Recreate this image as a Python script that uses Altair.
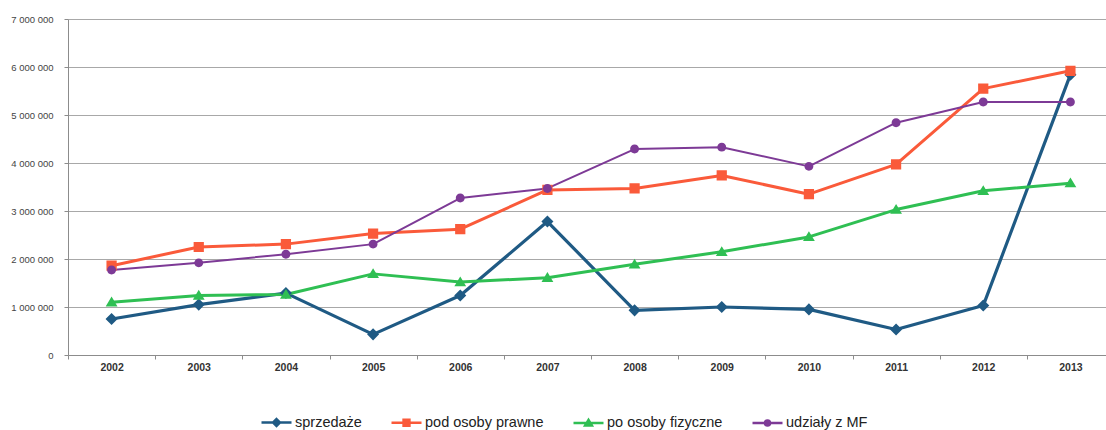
import altair as alt
import pandas as pd

# Categories and series (values in PLN)
years = [2002, 2003, 2004, 2005, 2006, 2007, 2008, 2009, 2010, 2011, 2012, 2013]
series_names = ["sprzedaże", "pod osoby prawne", "po osoby fizyczne", "udziały z MF"]

sprzedaze = [750_000, 1_050_000, 1_290_000, 430_000, 1_240_000, 2_780_000,
             930_000, 1_000_000, 950_000, 530_000, 1_030_000, 5_840_000]
pod_osoby_prawne = [1_860_000, 2_250_000, 2_310_000, 2_530_000, 2_620_000, 3_440_000,
                    3_470_000, 3_740_000, 3_350_000, 3_970_000, 5_550_000, 5_920_000]
po_osoby_fizyczne = [1_100_000, 1_240_000, 1_260_000, 1_690_000, 1_520_000, 1_610_000,
                     1_890_000, 2_150_000, 2_460_000, 3_030_000, 3_420_000, 3_580_000]
udzialy_mf = [1_770_000, 1_920_000, 2_100_000, 2_310_000, 3_270_000, 3_470_000,
              4_290_000, 4_330_000, 3_930_000, 4_840_000, 5_270_000, 5_270_000]

y_ticks = [0, 1_000_000, 2_000_000, 3_000_000, 4_000_000, 5_000_000, 6_000_000, 7_000_000]

colors = ["#1f5a84", "#fa5a3a", "#2fbf53", "#7d3a96"]
line_widths = [3.2, 3, 3, 2]

# Marker paths: a horizontal stroke (only visible in the legend, where symbols
# are stroked) plus a filled marker in the middle.
marker_paths = [
    "M-1,0H1M0,-0.23L0.23,0L0,0.23L-0.23,0Z",
    "M-1,0H1M-0.195,-0.195H0.195V0.195H-0.195Z",
    "M-1,0H1M0,-0.215L0.225,0.16H-0.225Z",
    "M-1,0H1M0.17,0A0.17,0.17,0,1,1,-0.17,0A0.17,0.17,0,1,1,0.17,0Z",
]

rows = []
for name, vals in zip(series_names,
                      [sprzedaze, pod_osoby_prawne, po_osoby_fizyczne, udzialy_mf]):
    for yr, v in zip(years, vals):
        rows.append({"rok": yr, "seria": name, "wartosc": v})
df = pd.DataFrame(rows)

FONT = "Liberation Sans"

x_enc = alt.X(
    "rok:O",
    title=None,
    scale=alt.Scale(range=[0, 1046], paddingInner=0, paddingOuter=0),
    axis=alt.Axis(
        tickBand="extent",
        labelAngle=0,
        labelFont=FONT,
        labelFontSize=10.5,
        labelFontWeight="bold",
        labelColor="#333333",
        labelPadding=3,
        tickSize=4,
        tickColor="#8c8c8c",
        domainColor="#8c8c8c",
        grid=False,
    ),
)

y_enc = alt.Y(
    "wartosc:Q",
    title=None,
    scale=alt.Scale(domain=[0, 7_000_000], nice=False),
    axis=alt.Axis(
        values=y_ticks,
        labelExpr="replace(format(datum.value, ',d'), regexp(',', 'g'), ' ')",
        labelFont=FONT,
        labelFontSize=9.5,
        labelColor="#444444",
        labelPadding=11,
        tickSize=4,
        tickColor="#8c8c8c",
        domainColor="#8c8c8c",
        gridColor="#a8a8a8",
        gridWidth=1,
    ),
)

# Per-series line colour and width as value conditions (no extra legend)
line_color = alt.when(alt.datum.seria == series_names[0]).then(alt.value(colors[0]))
line_width = alt.when(alt.datum.seria == series_names[0]).then(alt.value(line_widths[0]))
for name, c, w in zip(series_names[1:-1], colors[1:-1], line_widths[1:-1]):
    line_color = line_color.when(alt.datum.seria == name).then(alt.value(c))
    line_width = line_width.when(alt.datum.seria == name).then(alt.value(w))
line_color = line_color.otherwise(alt.value(colors[-1]))
line_width = line_width.otherwise(alt.value(line_widths[-1]))

lines = alt.Chart(df).mark_line(strokeJoin="round").encode(
    x=x_enc,
    y=y_enc,
    detail="seria:N",
    color=line_color,
    strokeWidth=line_width,
    order=alt.Order("rok:O"),
)

legend_def = alt.Legend(
    title=None,
    orient="none",
    direction="horizontal",
    columns=4,
    legendX=192,
    legendY=387,
    padding=0,
    columnPadding=24,
    labelOffset=2,
    labelFont=FONT,
    labelFontSize=14.5,
    labelColor="#222222",
    symbolSize=900,
    symbolStrokeWidth=2.5,
)

points = alt.Chart(df).mark_point(filled=True, opacity=1, size=2756).encode(
    x=x_enc,
    y=y_enc,
    color=alt.Color("seria:N", scale=alt.Scale(domain=series_names, range=colors),
                    sort=series_names, legend=legend_def),
    stroke=alt.Stroke("seria:N", scale=alt.Scale(domain=series_names, range=colors),
                      sort=series_names, legend=legend_def),
    shape=alt.Shape("seria:N", scale=alt.Scale(domain=series_names, range=marker_paths),
                    sort=series_names, legend=legend_def),
    strokeWidth=alt.value(0),
)

chart = (
    alt.layer(lines, points)
    .properties(
        width=1038,
        height=336,
        padding={"left": 68, "top": 19, "right": 0, "bottom": 75},
        autosize=alt.AutoSizeParams(type="none"),
        background="white",
    )
    .configure_view(strokeWidth=0)
)

chart.save("out.html", embed_options={"renderer": "svg", "actions": False})
